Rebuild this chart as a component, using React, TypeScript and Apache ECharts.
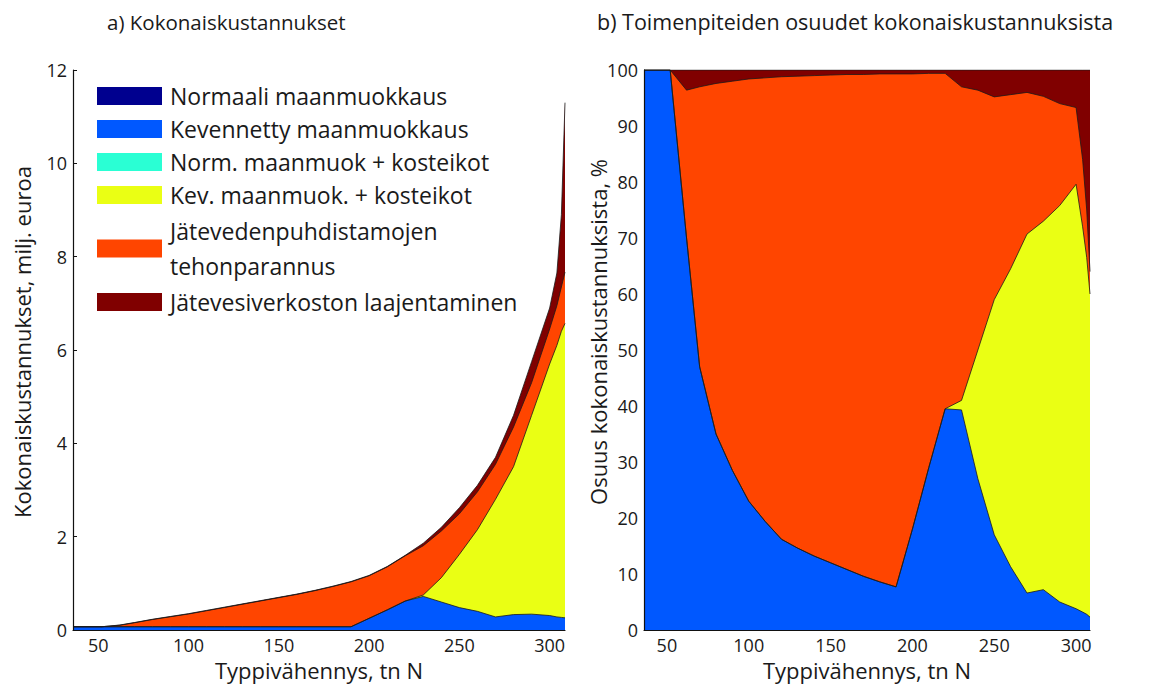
import { useEffect, useRef } from 'react';
import * as echarts from 'echarts';

// Nitrogen reduction (tn N) at which costs were computed
const reduction = [36, 52, 62, 70, 80, 90, 100, 110, 120, 130, 140, 150, 160, 170, 180, 190, 200, 210, 220, 230, 240, 250, 260, 270, 280, 290, 300, 304, 306.5, 308.5];

// a) Total costs per measure, milj. euroa
const costKevennetty = [0.07, 0.07, 0.07, 0.07, 0.07, 0.07, 0.07, 0.07, 0.07, 0.07, 0.07, 0.07, 0.07, 0.07, 0.07, 0.07, 0.25, 0.43, 0.62, 0.72, 0.6, 0.48, 0.4, 0.28, 0.33, 0.34, 0.31, 0.28, 0.27, 0.26];
const costKevKosteikot = [0, 0, 0, 0, 0, 0, 0, 0, 0, 0, 0, 0, 0, 0, 0, 0, 0, 0, 0, 0.03, 0.52, 1.14, 1.75, 2.52, 3.17, 4.26, 5.39, 5.82, 6.13, 6.31];
const costPuhdistamot = [0, 0, 0.033, 0.085, 0.154, 0.214, 0.273, 0.343, 0.413, 0.483, 0.553, 0.623, 0.693, 0.773, 0.863, 0.962, 0.912, 0.922, 0.97, 1.055, 1.0, 0.87, 0.81, 0.75, 0.85, 0.7, 0.75, 0.85, 0.95, 1.1];
const costVerkosto = [0, 0, 0.004, 0.005, 0.006, 0.006, 0.007, 0.007, 0.007, 0.007, 0.007, 0.007, 0.007, 0.007, 0.007, 0.007, 0.008, 0.008, 0.01, 0.055, 0.08, 0.13, 0.14, 0.15, 0.25, 0.45, 0.45, 0.7, 1.55, 3.63];

// b) Share of each measure in total costs, %
const shareKevennetty = [100, 100, 70, 47, 35, 28.5, 23, 19.4, 16.2, 14.6, 13.2, 12, 10.8, 9.6, 8.6, 7.7, 18, 29, 39.5, 39.3, 27, 17, 11.3, 6.6, 7.2, 5, 3.8, 3.2, 2.8, 2.3];
const shareKevKosteikot = [0, 0, 0, 0, 0, 0, 0, 0, 0, 0, 0, 0, 0, 0, 0, 0, 0, 0, 0, 1.7, 23, 42, 53.2, 64.1, 65.8, 70.8, 75.8, 68.8, 63.7, 57.7];
const sharePuhdistamot = [0, 0, 26.4, 50, 62.6, 69.5, 75.4, 79.2, 82.6, 84.3, 85.8, 87.1, 88.4, 89.6, 90.7, 91.6, 81.3, 70.4, 59.9, 56, 46.4, 36.2, 31.1, 25.3, 22.3, 18.2, 13.7, 12, 8.5, 4];
const shareVerkosto = [0, 0, 3.6, 3, 2.4, 2, 1.6, 1.4, 1.2, 1.1, 1, 0.9, 0.8, 0.8, 0.7, 0.7, 0.7, 0.6, 0.6, 3, 3.6, 4.8, 4.4, 4, 4.7, 6, 6.7, 16, 25, 36];

const costTicks = [0, 2, 4, 6, 8, 10, 12];
const shareTicks = [0, 10, 20, 30, 40, 50, 60, 70, 80, 90, 100];

const measures = [
  'Normaali maanmuokkaus',
  'Kevennetty maanmuokkaus',
  'Norm. maanmuok + kosteikot',
  'Kev. maanmuok. + kosteikot',
  'Jätevedenpuhdistamojen tehonparannus',
  'Jätevesiverkoston laajentaminen',
];
const measureColors = ['#00008f', '#0058ff', '#2affd4', '#eaff14', '#ff4500', '#800000'];

const FONT = '"Open Sans", "DejaVu Sans", sans-serif';
const INK = '#1a1a1a';

const pairs = (values: number[]) => values.map((v, i) => [reduction[i], v]);

// Stacked areas: each layer is drawn as its running total filled down to zero,
// uppermost total first so the lower layers paint over it.
function layeredSeries(axisIndex: number, layers: (number[] | null)[]) {
  const running = reduction.map(() => 0);
  const tops: { index: number; values: number[] }[] = [];
  layers.forEach((values, index) => {
    if (!values) return;
    values.forEach((v, i) => {
      running[i] += v;
    });
    tops.push({ index, values: running.slice() });
  });
  const base = {
    type: 'line',
    xAxisIndex: axisIndex,
    yAxisIndex: axisIndex,
    symbol: 'none',
    silent: true,
    emphasis: { disabled: true },
  };
  const empty = layers
    .map((values, index) => ({ values, index }))
    .filter((l) => !l.values)
    .map((l) => ({ ...base, name: measures[l.index], color: measureColors[l.index], data: [] }));
  const filled = tops.reverse().map(({ index, values }) => ({
    ...base,
    name: measures[index],
    color: measureColors[index],
    data: pairs(values),
    lineStyle: { color: '#1b1b1b', width: 0.8 },
    areaStyle: { color: measureColors[index], opacity: 1 },
  }));
  return [...empty, ...filled];
}

function xAxisFor(gridIndex: number) {
  return {
    gridIndex,
    type: 'value',
    min: reduction[0],
    max: reduction[reduction.length - 1],
    z: 5,
    name: 'Typpivähennys, tn N',
    nameLocation: 'middle',
    nameGap: 25,
    nameTextStyle: { fontFamily: FONT, fontSize: 22, color: INK },
    axisLine: { show: true, lineStyle: { color: '#111', width: 1.2 } },
    axisTick: { show: false },
    splitLine: { show: false },
    axisLabel: {
      fontFamily: FONT,
      fontSize: 18,
      color: INK,
      margin: 6,
      showMinLabel: false,
      showMaxLabel: false,
      formatter: (v: number) => (v % 50 === 0 ? String(v) : ''),
    },
  };
}

function yAxisFor(gridIndex: number, ticks: number[]) {
  return {
    gridIndex,
    type: 'value',
    min: ticks[0],
    max: ticks[ticks.length - 1],
    interval: ticks[1] - ticks[0],
    z: 5,
    axisLine: { show: true, lineStyle: { color: '#111', width: 1.2 } },
    axisTick: { show: gridIndex === 0, inside: true, length: 4, lineStyle: { color: '#111' } },
    splitLine: { show: false },
    axisLabel: { fontFamily: FONT, fontSize: 18, color: INK, margin: 6 },
  };
}

function verticalLabel(text: string, x: number, y: number) {
  return {
    type: 'text',
    x,
    y,
    rotation: Math.PI / 2,
    silent: true,
    style: { text, fontFamily: FONT, fontSize: 22, fill: INK, align: 'center', verticalAlign: 'middle' },
  };
}

export default function App() {
  const ref = useRef<HTMLDivElement>(null);

  useEffect(() => {
    if (!ref.current) return;
    const chart = echarts.init(ref.current, undefined, { renderer: 'svg' });
    chart.setOption({
      animation: false,
      backgroundColor: '#ffffff',
      textStyle: { fontFamily: FONT },
      title: [
        {
          text: 'a) Kokonaiskustannukset',
          left: 102,
          top: 6,
          textStyle: { fontFamily: FONT, fontSize: 20.5, fontWeight: 'normal', color: INK },
        },
        {
          text: 'b) Toimenpiteiden osuudet kokonaiskustannuksista',
          left: 592,
          top: 5,
          textStyle: { fontFamily: FONT, fontSize: 21.5, fontWeight: 'normal', color: INK },
        },
      ],
      legend: {
        orient: 'vertical',
        left: 97,
        top: 79.5,
        padding: 0,
        z: 10,
        itemWidth: 65,
        itemHeight: 18,
        itemGap: 0,
        icon: 'rect',
        selectedMode: false,
        textStyle: { fontFamily: FONT, fontSize: 23, lineHeight: 33, color: INK, padding: [0, 0, 0, 3] },
        formatter: (name: string) => name.replace('Jätevedenpuhdistamojen ', 'Jätevedenpuhdistamojen\n'),
        data: measures.map((name, i) => ({
          name,
          itemStyle: { color: measureColors[i] },
          ...(name.includes('\u00e4tevedenpuhdistamojen') ? { textStyle: { lineHeight: 35, padding: [2, 0, 2, 3] } } : {}),
        })),
      },
      grid: [
        { left: 73, top: 70, width: 492, height: 560 },
        { left: 644, top: 70, width: 446, height: 560 },
      ],
      xAxis: [xAxisFor(0), xAxisFor(1)],
      yAxis: [yAxisFor(0, costTicks), yAxisFor(1, shareTicks)],
      graphic: [
        verticalLabel('Kokonaiskustannukset, milj. euroa', 22, 342),
        verticalLabel('Osuus kokonaiskustannuksista, %', 598, 332),
      ],
      series: [
        ...layeredSeries(0, [null, costKevennetty, null, costKevKosteikot, costPuhdistamot, costVerkosto]),
        ...layeredSeries(1, [null, shareKevennetty, null, shareKevKosteikot, sharePuhdistamot, shareVerkosto]),
      ],
    });
    return () => chart.dispose();
  }, []);

  return (
    <div
      ref={ref}
      style={{ position: 'fixed', left: 0, top: 0, width: 1155, height: 687, background: '#fff' }}
    />
  );
}
